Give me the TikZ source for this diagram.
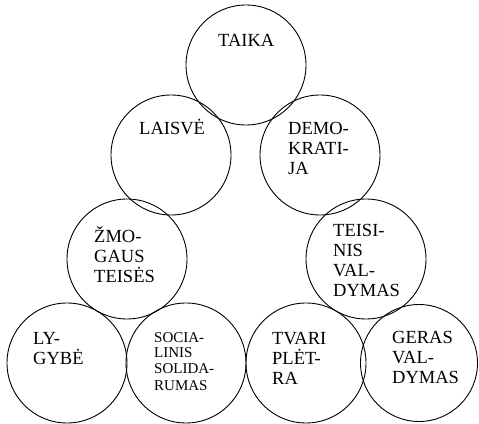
\documentclass[tikz,border=0pt]{standalone}
\usepackage{fontspec}
\setmainfont{Liberation Serif}
\begin{document}
\begin{tikzpicture}[x=1pt,y=1pt,
  ring/.style={draw=black,circle,line width=0.9pt,minimum size=120pt,inner sep=0pt},
  txt/.style={anchor=base west,align=left,inner sep=0pt,font=\fontsize{18.5pt}{20pt}\selectfont},
  smalltxt/.style={anchor=base west,align=left,inner sep=0pt,font=\fontsize{15pt}{16pt}\selectfont}]
\useasboundingbox (0,0) rectangle (479,423);
\clip (0,0) rectangle (479,423);
\node[ring] (taika) at (246,358) {};
\node[ring] (laisve) at (171,268) {};
\node[ring] (demo) at (320,268) {};
\node[ring] (zmog) at (127,164) {};
\node[ring] (teisinis) at (366,164) {};
\node[ring] (lyg) at (67,60) {};
\node[ring] (soc) at (186,60) {};
\node[ring] (tvari) at (306,60) {};
\node[ring,minimum size=117pt] (geras) at (419,60) {};
\node[txt] (ttaika) at ([shift={(-28,18)}]taika.center) {TAIKA};
\node[txt] (tlaisve) at ([shift={(-32,20)}]laisve.center) {LAISVĖ};
\node[txt] (tdemo) at ([shift={(-32,-20)}]demo.center) {DEMO-\\KRATI-\\JA};
\node[txt] (tzmog) at ([shift={(-33,-24)}]zmog.center) {ŽMO-\\GAUS\\TEISĖS};
\node[txt] (tteis) at ([shift={(-33,-38)}]teisinis.center) {TEISI-\\NIS\\VAL-\\DYMAS};
\node[txt] (tlyg) at ([shift={(-34,-2)}]lyg.center) {LY-\\GYBĖ};
\node[smalltxt] (tsoc) at ([shift={(-32,-27)}]soc.center) {SOCIA-\\LINIS\\SOLIDA-\\RUMAS};
\node[txt] (ttvari) at ([shift={(-34,-22)}]tvari.center) {TVARI\\PLĖT-\\RA};
\node[txt] (tgeras) at ([shift={(-27,-21)}]geras.center) {GERAS\\VAL-\\DYMAS};
\end{tikzpicture}
\end{document}
